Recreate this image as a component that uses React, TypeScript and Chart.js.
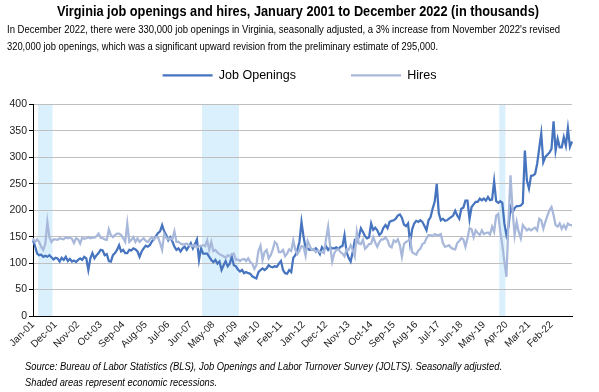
import { useEffect, useRef } from "react";
import { Chart, registerables } from "chart.js";

Chart.register(...registerables);

const FONT = '"Liberation Sans Narrow", "Arial Narrow", "Liberation Sans", Arial, sans-serif';

const titleText = "Virginia job openings and hires, January 2001 to December 2022 (in thousands)";
const introLines = [
  "In December 2022, there were 330,000 job openings in Virginia, seasonally adjusted, a 3% increase from November 2022's revised",
  "320,000 job openings, which was a significant upward revision from the preliminary estimate of 295,000.",
];
const footerLines = [
  "Source: Bureau of Labor Statistics (BLS), Job Openings and Labor Turnover Survey (JOLTS). Seasonally adjusted.",
  "Shaded areas represent economic recessions.",
];

const months = ["Jan", "Feb", "Mar", "Apr", "May", "Jun", "Jul", "Aug", "Sep", "Oct", "Nov", "Dec"];
const yearSuffixes = ["01", "02", "03", "04", "05", "06", "07", "08", "09", "10", "11", "12", "13", "14", "15", "16", "17", "18", "19", "20", "21", "22"];
const labels = yearSuffixes.flatMap((y) => months.map((m) => `${m}-${y}`));

const tickLabels = ["Jan-01", "Dec-01", "Nov-02", "Oct-03", "Sep-04", "Aug-05", "Jul-06", "Jun-07", "May-08", "Apr-09", "Mar-10", "Feb-11", "Jan-12", "Dec-12", "Nov-13", "Oct-14", "Sep-15", "Aug-16", "Jul-17", "Jun-18", "May-19", "Apr-20", "Mar-21", "Feb-22"];

const yTicks = [0, 50, 100, 150, 200, 250, 300, 350, 400];

const recessions = [
  ["Apr-01", "Oct-01"],
  ["Dec-07", "May-09"],
  ["Jan-20", "Mar-20"],
];

const jobOpenings = [
  143, 132, 118, 115, 116, 112, 114, 112, 115, 111, 107, 110,
  109, 103, 110, 106, 112, 104, 108, 103, 105, 102, 106, 109,
  106, 112, 109, 87, 109, 119, 109, 115, 119, 125, 124, 115,
  117, 104, 103, 115, 119, 125, 134, 122, 125, 119, 119, 125,
  124, 128, 126, 122, 112, 122, 128, 133, 131, 134, 141, 145,
  151, 157, 160, 172, 160, 153, 143, 149, 141, 131, 125, 128,
  122, 128, 131, 125, 131, 138, 128, 136, 145, 106, 128, 118,
  118, 118, 112, 106, 102, 106, 99, 103, 87, 96, 104, 94,
  99, 112, 96, 94, 88, 84, 87, 81, 83, 81, 80, 75,
  73, 71, 83, 87, 90, 87, 90, 96, 93, 92, 94, 93,
  99, 104, 87, 81, 80, 87, 83, 110, 115, 125, 140, 178,
  150, 128, 128, 125, 126, 125, 128, 124, 117, 130, 125, 132,
  125, 130, 128, 128, 130, 126, 131, 132, 153, 121, 110, 103,
  121, 143, 140, 150, 166, 159, 151, 147, 149, 175, 163, 167,
  162, 153, 157, 167, 172, 166, 178, 180, 181, 184, 190, 192,
  186, 173, 170, 175, 138, 164, 175, 180, 178, 181, 178, 170,
  162, 181, 187, 203, 216, 250, 194, 181, 184, 180, 181, 184,
  187, 190, 199, 190, 184, 203, 205, 218, 218, 183, 206, 211,
  216, 216, 222, 219, 222, 218, 225, 219, 220, 255, 217, 214,
  217, 214, 175, 153, 168, 206, 196, 204, 208, 208, 209, 213,
  313, 256, 241, 265, 266, 269, 288, 317, 345, 291, 301, 305,
  309, 316, 368, 313, 335, 319, 319, 338, 322, 355, 320, 330,
];

const hires = [
  147, 140, 145, 140, 131, 125, 136, 178, 149, 140, 145, 145,
  144, 147, 146, 145, 149, 147, 148, 146, 138, 147, 145, 137,
  148, 146, 147, 149, 147, 148, 148, 151, 156, 148, 147, 145,
  144, 164, 153, 149, 153, 156, 156, 153, 147, 140, 175, 140,
  144, 149, 140, 147, 140, 144, 147, 142, 140, 145, 149, 145,
  149, 149, 138, 125, 155, 148, 145, 147, 145, 160, 140, 140,
  137, 135, 136, 137, 134, 133, 132, 134, 130, 132, 132, 134,
  132, 143, 125, 140, 123, 125, 120, 117, 115, 113, 110, 115,
  113, 117, 118, 106, 107, 104, 107, 108, 104, 109, 102, 99,
  89, 96, 123, 133, 106, 121, 125, 109, 115, 126, 140, 136,
  121, 121, 125, 113, 118, 126, 123, 143, 125, 117, 123, 132,
  131, 114, 142, 133, 125, 127, 121, 124, 121, 121, 119, 146,
  169, 131, 103, 119, 125, 126, 121, 118, 113, 126, 125, 134,
  125, 113, 159, 137, 136, 144, 127, 131, 136, 137, 149, 139,
  131, 140, 145, 145, 149, 143, 132, 130, 143, 140, 145, 134,
  112, 136, 140, 142, 147, 121, 118, 116, 124, 127, 136, 138,
  147, 153, 153, 151, 155, 153, 153, 155, 138, 131, 132, 134,
  129, 127, 126, 138, 142, 147, 145, 131, 147, 166, 164, 149,
  162, 157, 153, 162, 155, 157, 158, 154, 169, 159, 190, 193,
  159, 134, 103, 74, 178, 266, 200, 153, 178, 159, 147, 172,
  167, 162, 165, 162, 165, 167, 162, 184, 181, 165, 178, 190,
  200, 206, 191, 172, 169, 175, 165, 172, 165, 175, 172, 172,
];

const JO_COLOR = "#4674BF";
const HIRES_COLOR = "#A8B8DA";
const SHADE_COLOR = "#DAF0FC";

const backgroundPlugin = {
  id: "bgAndRecessions",
  beforeDraw(chart: any) {
    const { ctx, chartArea, scales } = chart;
    ctx.save();
    ctx.fillStyle = "#ffffff";
    ctx.fillRect(0, 0, chart.width, chart.height);
    const xs = scales.x;
    const step = xs.getPixelForValue(1) - xs.getPixelForValue(0);
    ctx.fillStyle = SHADE_COLOR;
    recessions.forEach(([s, e]) => {
      const x1 = xs.getPixelForValue(labels.indexOf(s)) - step / 2;
      const x2 = xs.getPixelForValue(labels.indexOf(e)) + step / 2;
      ctx.fillRect(x1, chartArea.top, x2 - x1, chartArea.bottom - chartArea.top);
    });
    ctx.restore();
  },
};

// draws text condensed/stretched horizontally so that it spans the given width
function drawFitted(ctx: CanvasRenderingContext2D, text: string, x: number, y: number, width: number, align: "left" | "center") {
  const w = ctx.measureText(text).width;
  const sx = width / w;
  ctx.save();
  ctx.textAlign = "left";
  const left = align === "center" ? x - width / 2 : x;
  ctx.translate(left, y);
  ctx.scale(sx, 1);
  ctx.fillText(text, 0, 0);
  ctx.restore();
}

const textPlugin = {
  id: "texts",
  afterDraw(chart: any) {
    const { ctx } = chart;
    ctx.save();
    ctx.fillStyle = "#000";
    ctx.textBaseline = "middle";
    ctx.font = `bold 14px ${FONT}`;
    drawFitted(ctx, titleText, 298, 12, 482, "center");
    ctx.font = `11px ${FONT}`;
    drawFitted(ctx, introLines[0], 7, 30, 553, "left");
    drawFitted(ctx, introLines[1], 7, 47, 431, "left");
    ctx.font = `italic 10.5px ${FONT}`;
    drawFitted(ctx, footerLines[0], 25, 367, 477, "left");
    drawFitted(ctx, footerLines[1], 25, 383, 192, "left");
    ctx.restore();
  },
};

export default function App() {
  const ref = useRef<HTMLCanvasElement>(null);
  useEffect(() => {
    document.body.style.margin = "0";
    const chart = new Chart(ref.current as HTMLCanvasElement, {
      type: "line",
      data: {
        labels,
        datasets: [
          {
            label: "Job Openings",
            data: jobOpenings,
            borderColor: JO_COLOR,
            backgroundColor: JO_COLOR,
            borderWidth: 2.25,
            pointRadius: 0,
            tension: 0,
            fill: false,
            order: 1,
          },
          {
            label: "Hires",
            data: hires,
            borderColor: HIRES_COLOR,
            backgroundColor: HIRES_COLOR,
            borderWidth: 2.25,
            pointRadius: 0,
            tension: 0,
            fill: false,
            order: 0,
          },
        ],
      },
      options: {
        responsive: false,
        animation: false,
        devicePixelRatio: 1,
        layout: { padding: { top: 14, left: 7, right: 7, bottom: 36 } },
        plugins: {
          title: { display: false },
          tooltip: { enabled: false },
          legend: {
            display: true,
            position: "top",
            labels: {
              boxWidth: 50,
              boxHeight: 0,
              padding: 55,
              color: "#000",
              font: { family: FONT, size: 12.5 },
              sort: (a: any, b: any) => a.datasetIndex - b.datasetIndex,
            },
          },
        },
        scales: {
          x: {
            type: "category",
            offset: false,
            grid: { display: false, drawTicks: false },
            border: { display: true, color: "#000", width: 1 },
            ticks: {
              autoSkip: false,
              maxRotation: 45,
              minRotation: 45,
              padding: 3,
              color: "#222",
              font: { family: FONT, size: 10 },
              callback: (_v: any, i: number) => (tickLabels.includes(labels[i]) ? labels[i] : ""),
            },
            afterFit: (s: any) => {
              s.height = 40;
            },
          },
          x2: {
            type: "category",
            position: "top",
            display: true,
            grid: { display: false, drawTicks: false },
            border: { display: false },
            ticks: { display: false },
            afterFit: (s: any) => {
              s.height = 13;
            },
          },
          y: {
            type: "linear",
            min: 0,
            max: 400,
            afterBuildTicks: (s: any) => {
              s.ticks = yTicks.map((v) => ({ value: v }));
            },
            grid: { color: "#BFBFBF", lineWidth: 1, tickLength: 4, tickColor: "#000" },
            border: { display: true, color: "#000", width: 1 },
            ticks: { padding: 2, color: "#222", font: { family: FONT, size: 10.5 } },
            afterFit: (s: any) => {
              s.width = 26;
            },
          },
          y2: {
            type: "linear",
            position: "right",
            display: true,
            grid: { display: false, drawTicks: false },
            border: { display: false },
            ticks: { display: false },
            afterFit: (s: any) => {
              s.width = 20;
            },
          },
        },
      },
      plugins: [backgroundPlugin, textPlugin],
    } as any);
    return () => chart.destroy();
  }, []);
  return (
    <div style={{ width: 599, height: 392 }}>
      <canvas ref={ref} width={599} height={392} style={{ display: "block" }} />
    </div>
  );
}
